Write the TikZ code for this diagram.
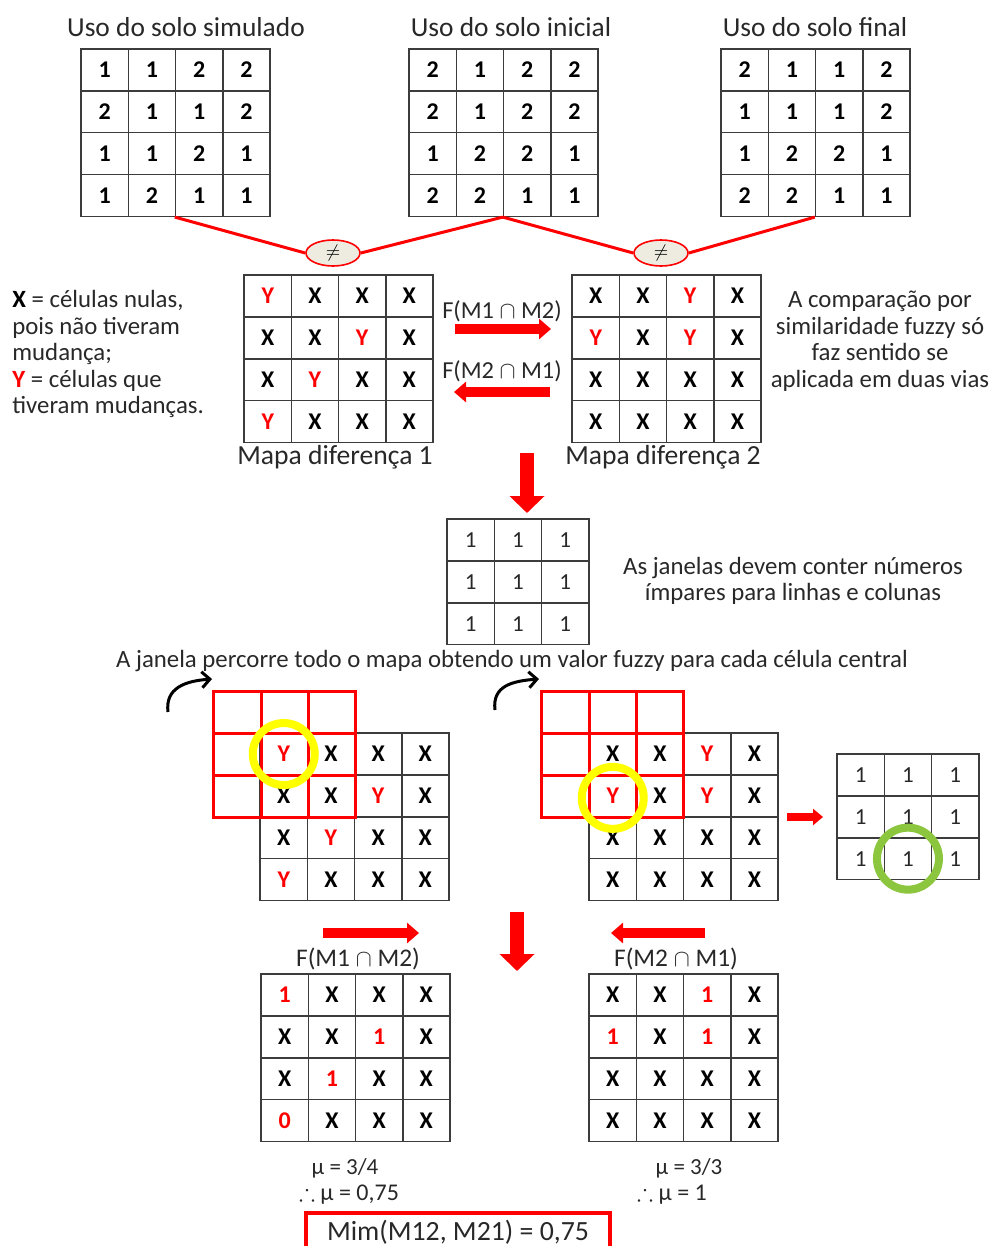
\documentclass[tikz,border=0pt]{standalone}
\usepackage{fontspec}
\setmainfont{Carlito}
\usepackage{amssymb}
\usetikzlibrary{matrix,shapes.geometric,arrows.meta}
\definecolor{ored}{RGB}{255,0,0}
\definecolor{oyellow}{RGB}{255,255,0}
\definecolor{ogreen}{RGB}{140,198,63}
\definecolor{ofill}{RGB}{238,236,225}
\definecolor{gline}{RGB}{60,60,60}
\definecolor{tgray}{RGB}{40,40,40}
\tikzset{
  cellgrid/.style={matrix of nodes, inner sep=0pt, column sep=-0.75pt, row sep=-0.75pt,
    nodes in empty cells,
    nodes={draw=gline, line width=0.75pt, minimum width=23.6pt, minimum height=20.9pt,
      inner sep=0pt, anchor=center, text=black, font=\bfseries\fontsize{12}{14}\selectfont}},
  plaingrid/.style={cellgrid, nodes={font=\fontsize{11.5}{14}\selectfont, text=tgray}},
  redwin/.style={matrix of nodes, inner sep=0pt, column sep=-1.5pt, row sep=-1.5pt,
    nodes in empty cells,
    nodes={draw=ored, line width=1.5pt, minimum width=23.6pt, minimum height=20.9pt,
      inner sep=0pt, anchor=center}},
  ry/.style={text=ored},
  txt/.style={font=\fontsize{12.4}{13.25}\selectfont, text=tgray, inner sep=0pt},
  redline/.style={draw=ored, line width=1.5pt},
  neq/.style={ellipse, draw=ored, line width=0.8pt, fill=ofill, minimum width=27pt,
    minimum height=13pt, inner sep=0pt, font=\fontsize{9}{10}\selectfont},
  bigarrow/.style={draw=ored, line width=5pt, -{Triangle[width=10pt,length=6pt]}},
  downarrow/.style={draw=ored, line width=7pt, -{Triangle[width=17pt,length=8.5pt]}},
  smallarrow/.style={draw=ored, line width=4pt, -{Triangle[width=8pt,length=5pt]}},
  curvarrow/.style={draw=black, line width=1.5pt, -{Straight Barb[length=4pt,width=8pt]}},
  ring/.style={circle, draw=#1, line width=4pt, minimum size=31pt, inner sep=0pt},
}
\begin{document}
\begin{tikzpicture}[x=0.5pt,y=-0.5pt]
\useasboundingbox (0,0) rectangle (992,1246);
\clip (0,0) rectangle (992,1246);
% ---- top titles
\node[txt, font=\fontsize{13.7}{15}\selectfont] (t1) at (186,27) {Uso do solo simulado};
\node[txt, font=\fontsize{13.7}{15}\selectfont] (t2) at (511,27) {Uso do solo inicial};
\node[txt, font=\fontsize{13.7}{15}\selectfont] (t3) at (815,27) {Uso do solo final};
% ---- top grids
\matrix (g1) [cellgrid, anchor=north west] at (80,48) {
1 & 1 & 2 & 2 \\
2 & 1 & 1 & 2 \\
1 & 1 & 2 & 1 \\
1 & 2 & 1 & 1 \\
};
\matrix (g2) [cellgrid, anchor=north west] at (408,48) {
2 & 1 & 2 & 2 \\
2 & 1 & 2 & 2 \\
1 & 2 & 2 & 1 \\
2 & 2 & 1 & 1 \\
};
\matrix (g3) [cellgrid, anchor=north west] at (720,48) {
2 & 1 & 1 & 2 \\
1 & 1 & 1 & 2 \\
1 & 2 & 2 & 1 \\
2 & 2 & 1 & 1 \\
};
% ---- difference ellipses
\node[neq] (e1) at (333,253) {$\neq$};
\node[neq] (e2) at (661,253) {$\neq$};
\draw[redline] (g1-4-3.south west) -- (e1.west);
\draw[redline] (e1.east) -- (g2-4-3.south west);
\draw[redline] (g2-4-3.south west) -- (e2.west);
\draw[redline] (e2.east) -- (g3-4-3.south west);
% ---- difference maps
\matrix (d1) [cellgrid, anchor=north west] at (243,274) {
|[ry]| Y & X & X & X \\
X & X & |[ry]| Y & X \\
X & |[ry]| Y & X & X \\
|[ry]| Y & X & X & X \\
};
\matrix (d2) [cellgrid, anchor=north west] at (571,274) {
X & X & |[ry]| Y & X \\
|[ry]| Y & X & |[ry]| Y & X \\
X & X & X & X \\
X & X & X & X \\
};
\node[txt, font=\fontsize{13.8}{15}\selectfont] (m1) at (335,457) {Mapa diferença 1};
\node[txt, font=\fontsize{13.8}{15}\selectfont] (m2) at (663,457) {Mapa diferença 2};
% legend
\node[txt, align=left, anchor=west] (leg) at (12,354) {%
\textbf{\color{black}X} = células nulas,\\
pois não tiveram\\
mudança;\\
\textbf{\color{ored}Y} = células que\\
tiveram mudanças.};
\node[txt, align=center] (cmp) at (880,341) {A comparação por\\similaridade fuzzy só\\faz sentido se\\aplicada em duas vias};
% arrows between maps
\node[txt, font=\fontsize{12.2}{14}\selectfont] (f12) at (502,311) {F(M1 $\cap$ M2)};
\node[txt, font=\fontsize{12.2}{14}\selectfont] (f21) at (502,371) {F(M2 $\cap$ M1)};
\coordinate (a1s) at (455,329); \coordinate (a1e) at (551,329);
\coordinate (a2s) at (550,392); \coordinate (a2e) at (454,392);
\draw[bigarrow] (a1s) -- (a1e);
\draw[bigarrow] (a2s) -- (a2e);
% down arrow
\coordinate (da1s) at (527,453); \coordinate (da1e) at (527,513);
\draw[downarrow] (da1s) -- (da1e);
% window
\matrix (w) [plaingrid, anchor=north west] at (446,518) {
1 & 1 & 1 \\
1 & 1 & 1 \\
1 & 1 & 1 \\
};
\node[txt, align=center] (wtxt) at (793,581) {As janelas devem conter números\\ímpares para linhas e colunas};
\node[txt] (sweep) at (512,661) {A janela percorre todo o mapa obtendo um valor fuzzy para cada célula central};
% ---- sweep left
\coordinate (c1s) at (168,712); \coordinate (c1e) at (212,679);
\draw[curvarrow] (c1s) .. controls (165,688) and (185,681) .. (c1e);
\matrix (s1) [cellgrid, anchor=north west] at (259,732) {
|[ry]| Y & X & X & X \\
X & X & |[ry]| Y & X \\
X & |[ry]| Y & X & X \\
|[ry]| Y & X & X & X \\
};
\matrix (r1) [redwin, anchor=north west] at (212,690) {
 & & \\
 & & \\
 & & \\
};
\node[ring=oyellow] (y1) at (s1-1-1) {};
% ---- sweep right
\coordinate (c2s) at (495,710); \coordinate (c2e) at (539,679);
\draw[curvarrow] (c2s) .. controls (492,686) and (512,681) .. (c2e);
\matrix (s2) [cellgrid, anchor=north west] at (588,732) {
X & X & |[ry]| Y & X \\
|[ry]| Y & X & |[ry]| Y & X \\
X & X & X & X \\
X & X & X & X \\
};
\matrix (r2) [redwin, anchor=north west] at (540,690) {
 & & \\
 & & \\
 & & \\
};
\node[ring=oyellow] (y2) at ([yshift=-1pt]s2-2-1) {};
% small arrow and result window
\coordinate (sa1) at (787,817); \coordinate (sa2) at (823,817);
\draw[smallarrow] (sa1) -- (sa2);
\matrix (rw) [plaingrid, anchor=north west] at (836,753) {
1 & 1 & 1 \\
1 & 1 & 1 \\
1 & 1 & 1 \\
};
\node[ring=ogreen] (gr) at (rw-3-2) {};
% ---- bottom arrows
\coordinate (b1s) at (323,933); \coordinate (b1e) at (419,933);
\coordinate (b2s) at (705,933); \coordinate (b2e) at (611,933);
\coordinate (db1) at (517,912); \coordinate (db2) at (517,971);
\draw[bigarrow] (b1s) -- (b1e);
\draw[bigarrow] (b2s) -- (b2e);
\draw[downarrow] (db1) -- (db2);
\node[txt, font=\fontsize{12.7}{14}\selectfont] (bf12) at (358,959) {F(M1 $\cap$ M2)};
\node[txt, font=\fontsize{12.7}{14}\selectfont] (bf21) at (676,959) {F(M2 $\cap$ M1)};
\matrix (o1) [cellgrid, anchor=north west] at (260,973) {
|[ry]| 1 & X & X & X \\
X & X & |[ry]| 1 & X \\
X & |[ry]| 1 & X & X \\
|[ry]| 0 & X & X & X \\
};
\matrix (o2) [cellgrid, anchor=north west] at (588,973) {
X & X & |[ry]| 1 & X \\
|[ry]| 1 & X & |[ry]| 1 & X \\
X & X & X & X \\
X & X & X & X \\
};
\node[txt, font=\fontsize{11.5}{13}\selectfont] (mu1) at (345,1168) {μ = 3/4};
\node[txt, font=\fontsize{12}{13}\selectfont] (mu1b) at (349,1194) {$\therefore$ μ = 0,75};
\node[txt, font=\fontsize{11.5}{13}\selectfont] (mu2) at (689,1168) {μ = 3/3};
\node[txt, font=\fontsize{12}{13}\selectfont] (mu2b) at (672,1194) {$\therefore$ μ = 1};
\node[txt, draw=ored, line width=2pt, minimum width=152pt, minimum height=19pt, font=\fontsize{13.9}{15}\selectfont] (res) at (458,1232) {Mim(M12, M21) = 0,75};
\end{tikzpicture}
\end{document}
